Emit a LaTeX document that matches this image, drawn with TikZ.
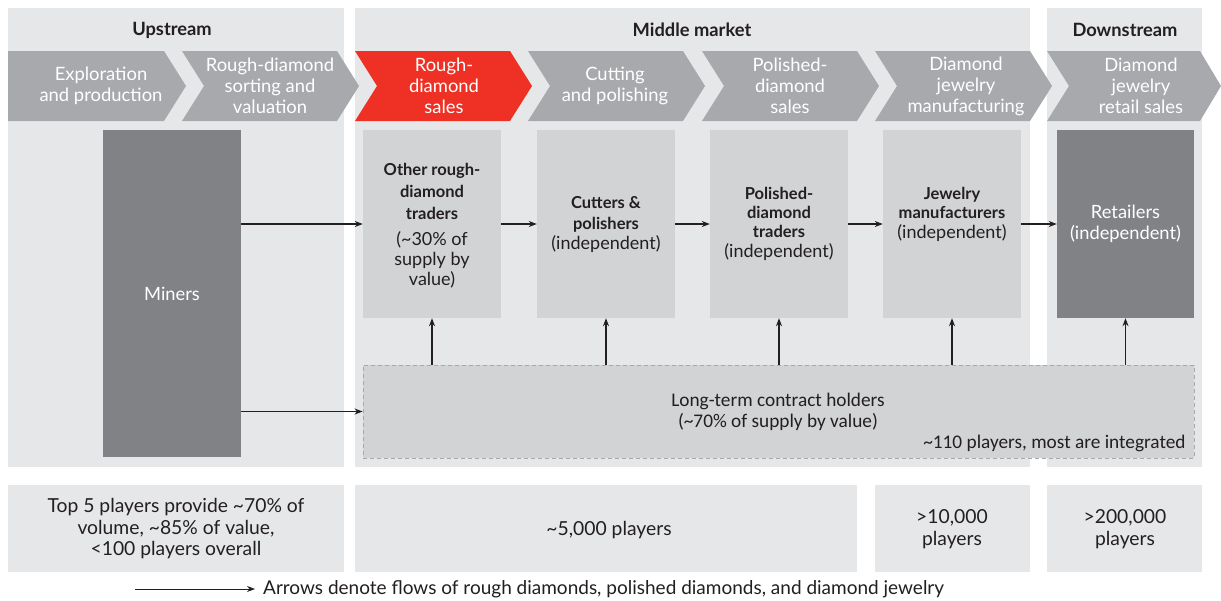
\documentclass[tikz,border=0pt]{standalone}
\usepackage{fontspec}
\setmainfont{Lato}
\newfontfamily\condfont{Carlito}
\usetikzlibrary{arrows.meta}
\definecolor{panel}{HTML}{E6E7E8}
\definecolor{chev}{HTML}{A7A9AC}
\definecolor{redc}{HTML}{EE3124}
\definecolor{boxl}{HTML}{D1D3D4}
\definecolor{boxd}{HTML}{808285}
\definecolor{txt}{HTML}{231F20}
\newcommand\bxb[1]{{\fontsize{16.5}{20}\selectfont\bfseries #1}}
\tikzset{
  head/.style={font=\fontsize{18.3}{20}\selectfont\bfseries, text=txt},
  chevtext/.style={font=\fontsize{18.4}{21}\selectfont, text=white, align=center},
  lbox/.style={fill=boxl, minimum width=138pt, minimum height=188pt, inner sep=0pt, align=center, text=txt, font=\fontsize{18}{20}\selectfont},
  dbox/.style={fill=boxd, inner sep=0pt, align=center, text=white, font=\fontsize{18.3}{21.5}\selectfont},
  ltbox/.style={fill=boxl, draw=chev, line width=0.9pt, dash pattern=on 4pt off 3pt, inner sep=0pt},
  btext/.style={font=\fontsize{19.3}{21.5}\selectfont, text=txt, align=center},
  flow/.style={draw=txt, line width=1.1pt, -{Stealth[length=8pt,width=6pt]}},
}
\begin{document}
\begin{tikzpicture}[x=1pt,y=-1pt]
\useasboundingbox (0,0) rectangle (1221,600);
\fill[white] (0,0) rectangle (1221,600);
% panels
\fill[panel] (8,8) rectangle (344,467);
\fill[panel] (355,8) rectangle (1030,467);
\fill[panel] (1047,8) rectangle (1202,467);
% headers
\node[head] (hup) at (172,30) {Upstream};
\node[head] (hmid) at (692,30) {Middle market};
\node[head] (hdown) at (1125,30) {Downstream};
% chevrons
\fill[chev] (8,51) -- (164,51) -- (186,86) -- (164,121) -- (8,121) -- cycle;
\foreach \l in {182,528,702,875} {
  \fill[chev] (\l,51) -- ({\l+155},51) -- ({\l+177},86) -- ({\l+155},121) -- (\l,121) -- ({\l+22},86) -- cycle;
}
\fill[redc] (355,51) -- (510,51) -- (532,86) -- (510,121) -- (355,121) -- (377,86) -- cycle;
\fill[chev] (1047,51) -- (1200,51) -- (1221,86) -- (1200,121) -- (1047,121) -- (1069,86) -- cycle;
\node[chevtext] (c1) at (101,86) {Exploration\\and production};
\node[chevtext] (c2) at (270,86) {Rough-diamond\\sorting and\\valuation};
\node[chevtext] (c3) at (444,86) {Rough-\\diamond\\sales};
\node[chevtext] (c4) at (615,86) {Cutting\\and polishing};
\node[chevtext] (c5) at (790,86) {Polished-\\diamond\\sales};
\node[chevtext] (c6) at (966,86) {Diamond\\jewelry\\manufacturing};
\node[chevtext] (c7) at (1141,86) {Diamond\\jewelry\\retail sales};
% main boxes
\node[dbox, minimum width=138pt, minimum height=327pt] (miners) at (172,293.5) {Miners};
\node[lbox] (oth) at (432,224) {};
\node[lbox] (cut) at (606,224) {};
\node[lbox] (pol) at (779,224) {};
\node[lbox] (jew) at (952,224) {};
\node[lbox, fill=none, minimum height=0pt] (otht) at (432,226) {\bxb{Other rough-}\\[2pt]\bxb{diamond}\\[2pt]\bxb{traders}\\[6pt](\textasciitilde30\% of\\supply by\\value)};
\node[lbox, fill=none, minimum height=0pt] (cutt) at (606,225) {\bxb{Cutters \&}\\[1pt]\bxb{polishers}\\(independent)};
\node[lbox, fill=none, minimum height=0pt] (polt) at (779,224) {\bxb{Polished-}\\[-1pt]\bxb{diamond}\\[-1pt]\bxb{traders}\\(independent)};
\node[lbox, fill=none, minimum height=0pt] (jewt) at (952,214) {\bxb{Jewelry}\\[-1pt]\bxb{manufacturers}\\(independent)};
\node[dbox, minimum width=137pt, minimum height=188pt] (ret) at (1125.5,224) {Retailers\\(independent)};
\node[ltbox, minimum width=831pt, minimum height=93pt] (lt) at (778.5,411.5) {};
\node[font=\condfont\fontsize{19.3}{21}\selectfont, text=txt, align=center] (ltt) at (778,412) {Long-term contract holders\\(\textasciitilde70\% of supply by value)};
\node[font=\condfont\fontsize{19.3}{21}\selectfont, text=txt, anchor=east] (ltp) at (1189,443) {\textasciitilde110 players, most are integrated};
% arrows
\draw[flow] (miners.east |- oth.west) -- (oth.west);
\draw[flow] (oth) -- (cut);
\draw[flow] (cut) -- (pol);
\draw[flow] (pol) -- (jew);
\draw[flow] (jew) -- (ret);
\draw[flow] (miners.east |- lt.west) -- (lt.west);
\foreach \b in {oth,cut,pol,jew,ret} {
  \draw[flow] (\b.south |- lt.north) -- (\b.south);
}
% bottom boxes
\fill[panel] (8,485) rectangle (344,572);
\fill[panel] (355,485) rectangle (857,572);
\fill[panel] (875,485) rectangle (1030,572);
\fill[panel] (1047,485) rectangle (1202,572);
\node[btext] (b1) at (176,529) {Top 5 players provide \textasciitilde70\% of\\volume, \textasciitilde85\% of value,\\{<}100 players overall};
\node[btext] (b2) at (609,530) {\textasciitilde5,000 players};
\node[btext] (b3) at (952,529) {>10,000\\players};
\node[btext] (b4) at (1125,529) {>200,000\\players};
% legend
\coordinate (la) at (135,589);
\node[font=\fontsize{19}{21}\selectfont, text=txt, anchor=west, inner xsep=8pt, inner ysep=2pt] (leg) at (255,589) {Arrows denote flows of rough diamonds, polished diamonds, and diamond jewelry};
\draw[flow, line width=0.9pt] (la) -- (leg.west);
\end{tikzpicture}
\end{document}
